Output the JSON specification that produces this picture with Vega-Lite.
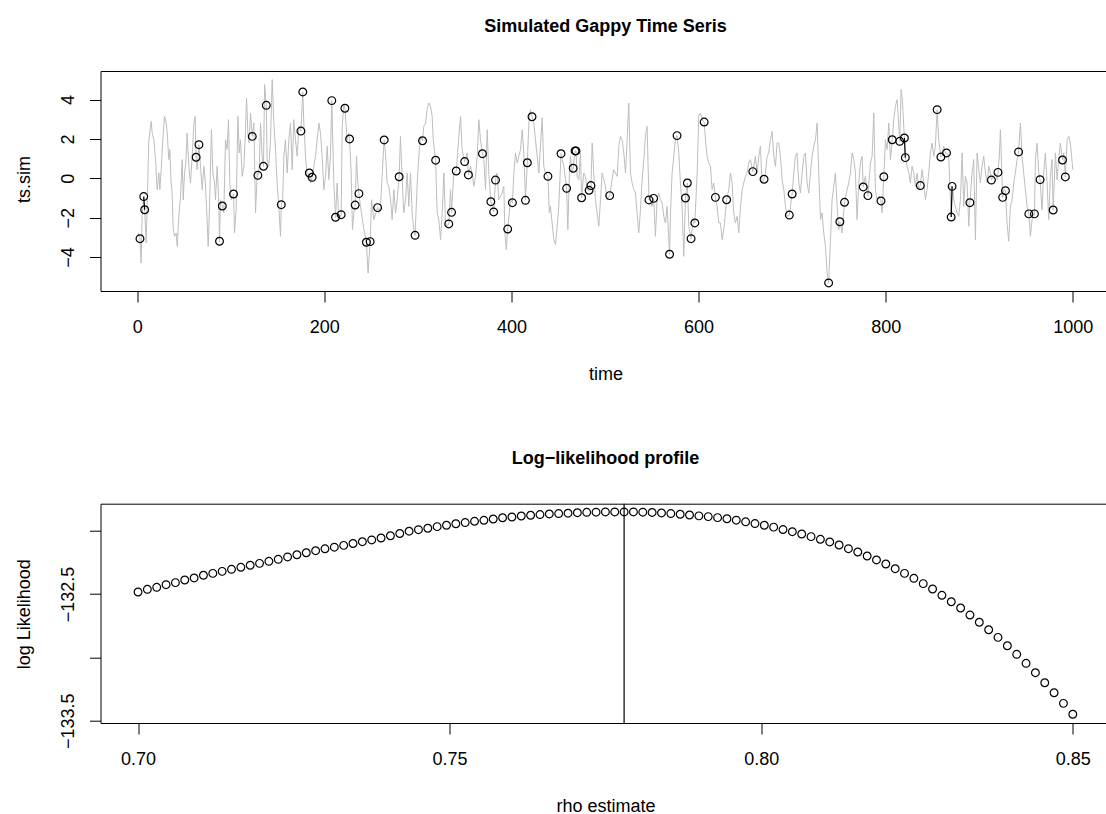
{
"$schema": "https://vega.github.io/schema/vega-lite/v6.json",
"padding": {"left": 14.5, "top": 18, "right": 0, "bottom": 2},
"background": "white",
"config": {
  "font": "Liberation Sans",
  "view": {"stroke": null},
  "axis": {"grid": false, "domain": true, "domainColor": "black", "domainWidth": 1, "tickColor": "black", "tickSize": 11, "tickWidth": 1,
    "labelFont": "Liberation Sans", "labelFontSize": 18, "labelColor": "black", "labelPadding": 16, "labelFlush": false, "labelOverlap": false,
    "titleFont": "Liberation Sans", "titleFontSize": 18, "titleFontWeight": "normal", "titleColor": "black"},
  "title": {"font": "Liberation Sans", "fontSize": 18, "fontWeight": "bold", "color": "black", "baseline": "alphabetic", "offset": 35, "frame": "group", "anchor": "middle", "dx": 2}
},
"datasets": {
  "series": [
{"t":1,"v":-2.78},{"t":3,"v":-3.07,"o":1},{"t":4.2,"v":-4.31},{"t":5.3,"v":-1.93},{"t":7,"v":-0.93,"o":1,"p":"a"},{"t":8,"v":-1.6,"o":1,"p":"a"},{"t":9.6,"v":-3.29},{"t":12.5,"v":1.96},{"t":15,"v":2.9},{"t":16,"v":2.3},{"t":17.8,"v":1.96},{"t":19.6,"v":0.95},{"t":21.4,"v":-0.58},{"t":23.2,"v":0.27},{"t":24.2,"v":-0.58},{"t":25.7,"v":0.44},{"t":27.4,"v":1.96},{"t":29.2,"v":3.15},{"t":31,"v":2.81},{"t":32.1,"v":2.3},{"t":33.8,"v":0.95},{"t":34.9,"v":1.46},{"t":36.3,"v":-0.24},{"t":37.4,"v":-0.75},{"t":38.5,"v":-2.61},{"t":39.9,"v":-2.95},{"t":41.7,"v":-2.78},{"t":42.8,"v":-3.46},{"t":44.5,"v":-1.93},{"t":46.3,"v":-0.92},{"t":48.1,"v":0.95},{"t":49.2,"v":-1.09},{"t":50.6,"v":0.27},{"t":52,"v":0.78},{"t":53.4,"v":2.3},{"t":55.2,"v":0.61},{"t":57,"v":-0.24},{"t":58.8,"v":1.12},{"t":60.6,"v":2.81},{"t":62,"v":3.15},{"t":63,"v":1.07,"o":1},{"t":64.1,"v":0.44},{"t":66,"v":1.71,"o":1},{"t":67.7,"v":0.61},{"t":69.5,"v":-0.58},{"t":71.3,"v":0.61},{"t":72.7,"v":-0.07},{"t":74.1,"v":-1.43},{"t":75.9,"v":-3.46},{"t":77.3,"v":-1.43},{"t":79.4,"v":2.47},{"t":80.9,"v":0.27},{"t":82.7,"v":-0.24},{"t":83.7,"v":-1.09},{"t":85.5,"v":0.61},{"t":86.9,"v":-0.75},{"t":88,"v":-3.2,"o":1},{"t":89.1,"v":-1.09},{"t":91,"v":-1.41,"o":1},{"t":92.6,"v":-1.76},{"t":94.4,"v":1.96},{"t":96.2,"v":1.46},{"t":97.6,"v":2.98},{"t":99,"v":-0.24},{"t":100.5,"v":-1.09},{"t":103,"v":-0.8,"o":1},{"t":104,"v":-2.78},{"t":105.8,"v":-1.6},{"t":107.6,"v":3.15},{"t":109,"v":1.29},{"t":110.4,"v":1.96},{"t":112.2,"v":0.1},{"t":114,"v":0.61},{"t":115.8,"v":2.47},{"t":116.9,"v":4.08},{"t":118.3,"v":2.3},{"t":119.7,"v":1.79},{"t":121.1,"v":3.32},{"t":123,"v":2.13,"o":1},{"t":124.7,"v":2.81},{"t":126.5,"v":-1.76},{"t":128.3,"v":0.27},{"t":129,"v":0.15,"o":1},{"t":130.5,"v":0.61},{"t":131.8,"v":2.81},{"t":133.6,"v":1.12},{"t":135,"v":0.61,"o":1},{"t":136.2,"v":4.76},{"t":138,"v":3.71,"o":1},{"t":138.9,"v":0.95},{"t":140.7,"v":0.61},{"t":142.5,"v":1.96},{"t":144.3,"v":5.02},{"t":146.1,"v":2.81},{"t":147.8,"v":1.46},{"t":149.6,"v":-0.24},{"t":151.4,"v":-1.43},{"t":153.2,"v":-2.95},{"t":154,"v":-1.34,"o":1},{"t":155.5,"v":-1.09},{"t":156.8,"v":1.12},{"t":158.5,"v":1.96},{"t":160.3,"v":0.27},{"t":162.1,"v":1.96},{"t":163.9,"v":2.81},{"t":165.7,"v":0.44},{"t":167.4,"v":2.98},{"t":169.2,"v":1.96},{"t":171,"v":1.12},{"t":172.8,"v":2.64},{"t":175,"v":2.4,"o":1},{"t":177,"v":4.39,"o":1},{"t":178.1,"v":2.81},{"t":179.9,"v":1.12},{"t":181.7,"v":0.1},{"t":184,"v":0.27,"o":1},{"t":185.3,"v":-0.24},{"t":187,"v":0.05,"o":1},{"t":188.8,"v":0.61},{"t":190.6,"v":1.12},{"t":192.4,"v":1.96},{"t":194.2,"v":2.81},{"t":195.9,"v":2.3},{"t":197.7,"v":1.12},{"t":199.5,"v":-0.58},{"t":201.3,"v":0.1},{"t":203.1,"v":1.63},{"t":204.8,"v":-0.07},{"t":206.6,"v":1.12},{"t":208,"v":3.95,"o":1},{"t":210.2,"v":-0.24},{"t":212,"v":-1.98,"o":1},{"t":213.7,"v":-0.24},{"t":215.5,"v":-2.1},{"t":218,"v":-1.85,"o":1},{"t":219.1,"v":2.64},{"t":220.9,"v":3.74},{"t":222,"v":3.56,"o":1},{"t":224.4,"v":1.96},{"t":226.2,"v":2.3},{"t":227,"v":2.0,"o":1},{"t":228.7,"v":0.27},{"t":230.1,"v":-2.61},{"t":231.6,"v":-1.76},{"t":233,"v":-1.36,"o":1},{"t":234.4,"v":1.12},{"t":235.8,"v":-0.24},{"t":237,"v":-0.78,"o":1},{"t":238.7,"v":-1.43},{"t":242.3,"v":-2.61},{"t":245,"v":-3.25,"o":1},{"t":246.8,"v":-4.82},{"t":249,"v":-3.22,"o":1},{"t":250.5,"v":-1.09},{"t":252.9,"v":-2.1},{"t":257,"v":-1.49,"o":1},{"t":258.3,"v":-1.76},{"t":260.1,"v":-1.43},{"t":261.9,"v":0.27},{"t":264,"v":1.95,"o":1},{"t":265.4,"v":1.29},{"t":267.2,"v":-0.24},{"t":269,"v":-0.41},{"t":270.8,"v":-1.09},{"t":272.5,"v":-2.1},{"t":274.3,"v":-0.58},{"t":276.1,"v":-1.76},{"t":277.9,"v":-1.09},{"t":280,"v":0.08,"o":1},{"t":281.4,"v":2.13},{"t":283.2,"v":-0.07},{"t":285,"v":-1.76},{"t":286.8,"v":-1.09},{"t":288.6,"v":0.27},{"t":290.3,"v":-1.43},{"t":292.1,"v":0.27},{"t":293.9,"v":-1.76},{"t":295.7,"v":-2.61},{"t":297,"v":-2.9,"o":1},{"t":299.3,"v":-0.24},{"t":301,"v":1.12},{"t":302.8,"v":2.13},{"t":305,"v":1.91,"o":1},{"t":306.4,"v":2.64},{"t":308.2,"v":2.81},{"t":309.9,"v":3.49},{"t":311.7,"v":3.83},{"t":313.5,"v":3.66},{"t":315.3,"v":3.15},{"t":316.4,"v":1.96},{"t":319,"v":0.92,"o":1},{"t":320.6,"v":-1.76},{"t":322.4,"v":-2.1},{"t":324.2,"v":-3.12},{"t":326,"v":-1.76},{"t":327.8,"v":0.27},{"t":329.5,"v":-2.27},{"t":331.3,"v":-2.44},{"t":333,"v":-2.32,"o":1},{"t":334.9,"v":-0.58},{"t":336,"v":-1.73,"o":1},{"t":338.4,"v":0.27},{"t":341,"v":0.37,"o":1},{"t":342,"v":0.95},{"t":343.8,"v":2.13},{"t":345.6,"v":3.15},{"t":347.3,"v":1.46},{"t":350,"v":0.85,"o":1},{"t":352.7,"v":1.29},{"t":354,"v":0.17,"o":1},{"t":356.2,"v":0.61},{"t":358,"v":0.27},{"t":359.8,"v":-0.41},{"t":361.6,"v":0.1},{"t":363.4,"v":1.12},{"t":365.2,"v":2.98},{"t":366.9,"v":1.96},{"t":369,"v":1.25,"o":1},{"t":370.5,"v":0.95},{"t":372.3,"v":-0.58},{"t":374.1,"v":2.47},{"t":375.8,"v":0.27},{"t":378,"v":-1.19,"o":1},{"t":379.4,"v":-1.43},{"t":381,"v":-1.71,"o":1},{"t":383,"v":-0.09,"o":1},{"t":384.7,"v":0.27},{"t":386.5,"v":-1.09},{"t":388.3,"v":-0.92},{"t":390.1,"v":-0.75},{"t":391.9,"v":-0.41},{"t":393,"v":-2.78},{"t":394.5,"v":-3.63},{"t":396,"v":-2.58,"o":1},{"t":399,"v":-1.09},{"t":401,"v":-1.24,"o":1},{"t":402.6,"v":0.27},{"t":404.3,"v":1.29},{"t":406.1,"v":0.78},{"t":407.9,"v":1.12},{"t":409.7,"v":1.46},{"t":411.5,"v":2.47},{"t":413.2,"v":1.29},{"t":415,"v":-1.12,"o":1},{"t":417,"v":0.79,"o":1},{"t":418.6,"v":2.81},{"t":420.4,"v":3.49},{"t":422,"v":3.13,"o":1},{"t":423.9,"v":2.81},{"t":425.7,"v":1.96},{"t":427.5,"v":1.12},{"t":429.3,"v":0.27},{"t":431,"v":1.63},{"t":432.8,"v":3.07},{"t":434.6,"v":0.61},{"t":436.4,"v":0.27},{"t":439,"v":0.1,"o":1},{"t":440.5,"v":-1.76},{"t":441.7,"v":-1.43},{"t":443.5,"v":-2.27},{"t":445.3,"v":-3.12},{"t":447.1,"v":-3.37},{"t":448.9,"v":-2.44},{"t":450.6,"v":-1.43},{"t":453,"v":1.25,"o":1},{"t":454.2,"v":0.95},{"t":456,"v":0.61},{"t":457.8,"v":-0.07},{"t":459,"v":-0.51,"o":1},{"t":460.3,"v":-2.61},{"t":462,"v":0.27},{"t":463.1,"v":1.12},{"t":464.9,"v":0.27},{"t":466,"v":0.51,"o":1},{"t":468,"v":1.39,"o":1},{"t":469,"v":1.39,"o":1},{"t":470.2,"v":0.1},{"t":472,"v":-0.07},{"t":473.8,"v":1.29},{"t":475,"v":-0.99,"o":1},{"t":477.3,"v":0.27},{"t":479.1,"v":0.1},{"t":480.9,"v":-0.58},{"t":483,"v":-0.61,"o":1},{"t":485,"v":-0.37,"o":1},{"t":486.3,"v":1.79},{"t":488,"v":0.27},{"t":489.8,"v":-1.09},{"t":491.6,"v":-1.76},{"t":493.4,"v":-2.44},{"t":495.2,"v":-1.09},{"t":496.9,"v":0.27},{"t":498.7,"v":-0.07},{"t":500.5,"v":-0.41},{"t":502.3,"v":-1.09},{"t":505,"v":-0.88,"o":1},{"t":507.6,"v":-0.07},{"t":509.4,"v":0.44},{"t":511.2,"v":0.27},{"t":513,"v":0.1},{"t":514.8,"v":1.63},{"t":516.5,"v":2.13},{"t":518.3,"v":1.96},{"t":520.1,"v":1.29},{"t":521.9,"v":0.27},{"t":523.7,"v":1.96},{"t":525.4,"v":3.83},{"t":527.2,"v":0.27},{"t":529,"v":-0.24},{"t":530.8,"v":-0.58},{"t":532.6,"v":-0.75},{"t":534.3,"v":-1.76},{"t":536.1,"v":-2.78},{"t":537.9,"v":-1.6},{"t":539.7,"v":-0.07},{"t":541.5,"v":0.95},{"t":543.3,"v":2.22},{"t":545,"v":2.64},{"t":547,"v":-1.1,"o":1},{"t":548.6,"v":-1.09},{"t":550.4,"v":-1.43},{"t":552,"v":-1.02,"o":1},{"t":553.9,"v":-2.95},{"t":555.7,"v":-1.09},{"t":557.5,"v":-0.75},{"t":559.3,"v":-1.09},{"t":561.1,"v":-1.26},{"t":562.8,"v":-1.93},{"t":564.6,"v":-2.27},{"t":566.4,"v":-1.43},{"t":569,"v":-3.86,"o":1},{"t":570,"v":-1.76},{"t":571.7,"v":0.27},{"t":573.5,"v":1.12},{"t":575.3,"v":1.96},{"t":577,"v":2.17,"o":1},{"t":578.9,"v":1.29},{"t":580.6,"v":-0.24},{"t":582.4,"v":-1.43},{"t":584.2,"v":-3.97},{"t":586,"v":-1.0,"o":1},{"t":588,"v":-0.24,"o":1},{"t":589.6,"v":-2.44},{"t":592,"v":-3.07,"o":1},{"t":593.1,"v":-2.61},{"t":594.9,"v":-2.1},{"t":596,"v":-2.27,"o":1},{"t":598.5,"v":0.27},{"t":600.2,"v":3.15},{"t":602,"v":3.32},{"t":603.8,"v":2.98},{"t":606,"v":2.86,"o":1},{"t":607.4,"v":1.96},{"t":609.1,"v":1.12},{"t":610.9,"v":0.78},{"t":612.7,"v":0.61},{"t":614.5,"v":-0.58},{"t":616.3,"v":-0.24},{"t":618,"v":-0.97,"o":1},{"t":619.8,"v":-1.43},{"t":621.6,"v":-2.27},{"t":623.4,"v":-2.27},{"t":625.2,"v":-3.12},{"t":627,"v":-2.61},{"t":628.7,"v":-1.76},{"t":630,"v":-1.09,"o":1},{"t":632.3,"v":-0.58},{"t":634.1,"v":0.27},{"t":635.9,"v":-0.24},{"t":637.6,"v":-1.76},{"t":639.4,"v":-2.27},{"t":641.2,"v":-1.93},{"t":643,"v":-2.78},{"t":644.8,"v":-1.43},{"t":646.6,"v":-0.58},{"t":648.3,"v":-0.24},{"t":650.1,"v":0.1},{"t":651.9,"v":0.27},{"t":653.7,"v":0.78},{"t":655.5,"v":0.95},{"t":658,"v":0.34,"o":1},{"t":660.8,"v":1.12},{"t":662.6,"v":0.27},{"t":664.4,"v":1.12},{"t":666.1,"v":1.63},{"t":667.9,"v":-0.24},{"t":670,"v":-0.05,"o":1},{"t":671.5,"v":0.27},{"t":673.3,"v":1.12},{"t":675,"v":1.29},{"t":676.8,"v":1.96},{"t":678.6,"v":2.39},{"t":680.4,"v":1.12},{"t":682.2,"v":0.61},{"t":683.9,"v":1.79},{"t":685.7,"v":1.79},{"t":687.5,"v":1.12},{"t":689.3,"v":-0.07},{"t":691.1,"v":-0.58},{"t":692.9,"v":-1.43},{"t":694.6,"v":-1.93},{"t":697,"v":-1.87,"o":1},{"t":698.2,"v":-1.43},{"t":700,"v":-0.8,"o":1},{"t":701.8,"v":0.27},{"t":703.5,"v":1.12},{"t":705.3,"v":1.29},{"t":707.1,"v":-0.24},{"t":708.9,"v":-0.75},{"t":710.7,"v":0.27},{"t":712.5,"v":1.12},{"t":714.2,"v":1.29},{"t":716,"v":-0.24},{"t":717.8,"v":-0.75},{"t":719.6,"v":0.27},{"t":721.4,"v":1.12},{"t":723.1,"v":1.63},{"t":724.9,"v":1.96},{"t":726.7,"v":2.81},{"t":728.5,"v":0.27},{"t":730.3,"v":-2.1},{"t":732,"v":-1.76},{"t":733.8,"v":-2.78},{"t":735.6,"v":-3.46},{"t":737.4,"v":-4.82},{"t":739,"v":-5.32,"o":1},{"t":741,"v":-3.12},{"t":742.7,"v":-1.09},{"t":744.5,"v":-0.41},{"t":746.3,"v":0.27},{"t":748.1,"v":-1.43},{"t":749.9,"v":-2.61},{"t":751,"v":-2.21,"o":1},{"t":753.4,"v":-2.78},{"t":756,"v":-1.22,"o":1},{"t":758.8,"v":-0.58},{"t":760.5,"v":-0.24},{"t":762.3,"v":0.27},{"t":764.1,"v":1.29},{"t":765.9,"v":0.95},{"t":767.7,"v":0.27},{"t":769.4,"v":-2.1},{"t":771.2,"v":-0.24},{"t":773,"v":0.78},{"t":774.8,"v":1.12},{"t":776,"v":-0.44,"o":1},{"t":778.3,"v":0.1},{"t":781,"v":-0.88,"o":1},{"t":783.7,"v":0.78},{"t":785.5,"v":1.12},{"t":787.3,"v":3.32},{"t":789,"v":-0.58},{"t":790.8,"v":-1.09},{"t":792.6,"v":-0.92},{"t":795,"v":-1.15,"o":1},{"t":796.2,"v":-1.76},{"t":798,"v":0.08,"o":1},{"t":799.7,"v":1.96},{"t":801.5,"v":1.46},{"t":803.3,"v":2.81},{"t":805.1,"v":0.95},{"t":807,"v":1.96,"o":1},{"t":808.6,"v":2.98},{"t":810.4,"v":3.66},{"t":812.2,"v":4.0},{"t":815,"v":1.88,"o":1},{"t":816.5,"v":4.51},{"t":818,"v":3.83},{"t":820,"v":2.05,"o":1,"p":"b"},{"t":821,"v":1.05,"o":1,"p":"b"},{"t":822.9,"v":0.61},{"t":824.7,"v":0.27},{"t":826.4,"v":-0.24},{"t":828.2,"v":0.61},{"t":830,"v":0.27},{"t":831.8,"v":-0.41},{"t":833.6,"v":0.27},{"t":835.3,"v":-0.58},{"t":837,"v":-0.37,"o":1},{"t":838.9,"v":0.44},{"t":840.7,"v":-0.24},{"t":842.5,"v":-1.09},{"t":844.2,"v":-0.58},{"t":846,"v":0.27},{"t":847.8,"v":1.29},{"t":849.6,"v":1.79},{"t":851.4,"v":1.12},{"t":853.1,"v":1.63},{"t":855,"v":3.49,"o":1},{"t":856.7,"v":1.96},{"t":859,"v":1.08,"o":1},{"t":860.3,"v":1.12},{"t":862,"v":1.63},{"t":863.8,"v":1.29},{"t":865,"v":1.29,"o":1},{"t":867.4,"v":1.12},{"t":868.5,"v":-0.24},{"t":870,"v":-1.97,"o":1,"p":"c"},{"t":871,"v":-0.41,"o":1,"p":"c"},{"t":872.8,"v":-1.09},{"t":874.5,"v":-1.43},{"t":876.3,"v":-1.76},{"t":878.1,"v":-1.93},{"t":879.9,"v":-1.09},{"t":881.7,"v":1.29},{"t":883.4,"v":-1.43},{"t":885.2,"v":0.1},{"t":887,"v":-0.24},{"t":888.8,"v":-2.44},{"t":890,"v":-1.24,"o":1},{"t":892.3,"v":0.27},{"t":894.1,"v":0.95},{"t":895.9,"v":-3.12},{"t":897.7,"v":1.29},{"t":899.5,"v":0.44},{"t":901.2,"v":-0.24},{"t":903,"v":0.61},{"t":904.8,"v":1.12},{"t":906.6,"v":0.27},{"t":908.4,"v":-0.24},{"t":910.1,"v":0.61},{"t":911.9,"v":0.27},{"t":913,"v":-0.09,"o":1},{"t":915.5,"v":0.1},{"t":917.3,"v":0.27},{"t":919,"v":-0.07},{"t":920,"v":0.3,"o":1},{"t":921.5,"v":1.12},{"t":922.6,"v":2.47},{"t":925,"v":-0.97,"o":1},{"t":926.2,"v":-0.58},{"t":928,"v":-0.63,"o":1},{"t":929.7,"v":-2.27},{"t":931.5,"v":-3.2},{"t":933.3,"v":-1.43},{"t":935.1,"v":-1.09},{"t":936.9,"v":-0.24},{"t":938.6,"v":0.27},{"t":940.4,"v":0.95},{"t":942,"v":1.34,"o":1},{"t":944,"v":2.81},{"t":945.8,"v":1.12},{"t":947.5,"v":0.27},{"t":949.3,"v":-0.58},{"t":951.1,"v":-1.43},{"t":953,"v":-1.81,"o":1},{"t":954.7,"v":-2.95},{"t":956.4,"v":-2.1},{"t":959,"v":-1.81,"o":1},{"t":960,"v":0.95},{"t":961.8,"v":1.79},{"t":963.6,"v":0.27},{"t":965,"v":-0.07,"o":1},{"t":967.1,"v":-1.6},{"t":968.9,"v":0.27},{"t":970.7,"v":1.29},{"t":972.5,"v":-0.24},{"t":974.3,"v":-2.1},{"t":976,"v":0.1},{"t":977.8,"v":0.95},{"t":979,"v":-1.61,"o":1},{"t":981.4,"v":1.29},{"t":983.2,"v":-0.07},{"t":984.9,"v":0.95},{"t":986.7,"v":1.79},{"t":989,"v":0.93,"o":1},{"t":990.3,"v":1.29},{"t":992,"v":0.07,"o":1},{"t":993.9,"v":1.96},{"t":995.7,"v":2.13},{"t":997.4,"v":1.79},{"t":1000,"v":0.44}
  ],
  "profile": [
{"rho":0.7,"ll":-132.484},{"rho":0.7015,"ll":-132.463},{"rho":0.703,"ll":-132.447},{"rho":0.7045,"ll":-132.426},{"rho":0.706,"ll":-132.41},{"rho":0.7075,"ll":-132.389},{"rho":0.709,"ll":-132.373},{"rho":0.7105,"ll":-132.352},{"rho":0.712,"ll":-132.337},{"rho":0.7135,"ll":-132.321},{"rho":0.715,"ll":-132.305},{"rho":0.7165,"ll":-132.289},{"rho":0.718,"ll":-132.273},{"rho":0.7195,"ll":-132.258},{"rho":0.721,"ll":-132.242},{"rho":0.7225,"ll":-132.226},{"rho":0.724,"ll":-132.207},{"rho":0.7255,"ll":-132.19},{"rho":0.727,"ll":-132.174},{"rho":0.7285,"ll":-132.158},{"rho":0.73,"ll":-132.143},{"rho":0.7315,"ll":-132.13},{"rho":0.733,"ll":-132.116},{"rho":0.7345,"ll":-132.101},{"rho":0.736,"ll":-132.087},{"rho":0.7375,"ll":-132.073},{"rho":0.739,"ll":-132.058},{"rho":0.7405,"ll":-132.04},{"rho":0.742,"ll":-132.022},{"rho":0.7435,"ll":-132.004},{"rho":0.745,"ll":-131.992},{"rho":0.7465,"ll":-131.981},{"rho":0.748,"ll":-131.968},{"rho":0.7495,"ll":-131.957},{"rho":0.751,"ll":-131.945},{"rho":0.7525,"ll":-131.936},{"rho":0.754,"ll":-131.926},{"rho":0.7555,"ll":-131.918},{"rho":0.757,"ll":-131.908},{"rho":0.7585,"ll":-131.898},{"rho":0.76,"ll":-131.892},{"rho":0.7615,"ll":-131.884},{"rho":0.763,"ll":-131.878},{"rho":0.7645,"ll":-131.873},{"rho":0.766,"ll":-131.868},{"rho":0.7675,"ll":-131.865},{"rho":0.769,"ll":-131.862},{"rho":0.7705,"ll":-131.858},{"rho":0.772,"ll":-131.855},{"rho":0.7735,"ll":-131.854},{"rho":0.775,"ll":-131.852},{"rho":0.7765,"ll":-131.852},{"rho":0.778,"ll":-131.852},{"rho":0.7795,"ll":-131.852},{"rho":0.781,"ll":-131.854},{"rho":0.7825,"ll":-131.856},{"rho":0.784,"ll":-131.86},{"rho":0.7855,"ll":-131.865},{"rho":0.787,"ll":-131.87},{"rho":0.7885,"ll":-131.876},{"rho":0.79,"ll":-131.883},{"rho":0.7915,"ll":-131.889},{"rho":0.793,"ll":-131.897},{"rho":0.7945,"ll":-131.906},{"rho":0.796,"ll":-131.917},{"rho":0.7975,"ll":-131.93},{"rho":0.799,"ll":-131.944},{"rho":0.8005,"ll":-131.957},{"rho":0.802,"ll":-131.972},{"rho":0.8035,"ll":-131.991},{"rho":0.805,"ll":-132.008},{"rho":0.8065,"ll":-132.026},{"rho":0.808,"ll":-132.047},{"rho":0.8095,"ll":-132.068},{"rho":0.811,"ll":-132.089},{"rho":0.8125,"ll":-132.113},{"rho":0.814,"ll":-132.142},{"rho":0.8155,"ll":-132.168},{"rho":0.817,"ll":-132.2},{"rho":0.8185,"ll":-132.231},{"rho":0.82,"ll":-132.263},{"rho":0.8215,"ll":-132.3},{"rho":0.823,"ll":-132.337},{"rho":0.8245,"ll":-132.376},{"rho":0.826,"ll":-132.418},{"rho":0.8275,"ll":-132.46},{"rho":0.829,"ll":-132.51},{"rho":0.8305,"ll":-132.561},{"rho":0.832,"ll":-132.61},{"rho":0.8335,"ll":-132.666},{"rho":0.835,"ll":-132.723},{"rho":0.8365,"ll":-132.782},{"rho":0.838,"ll":-132.842},{"rho":0.8395,"ll":-132.908},{"rho":0.841,"ll":-132.976},{"rho":0.8425,"ll":-133.047},{"rho":0.844,"ll":-133.121},{"rho":0.8455,"ll":-133.2},{"rho":0.847,"ll":-133.279},{"rho":0.8485,"ll":-133.363},{"rho":0.85,"ll":-133.449}
  ],
  "best": [{"rho": 0.778}]
},
"spacing": 212.7,
"bounds": "flush",
"vconcat": [
  {
    "width": 1006, "height": 220,
    "title": {"text": "Simulated Gappy Time Seris"},
    "data": {"name": "series"},
    "resolve": {"axis": {"x": "independent"}},
    "layer": [
      {
        "mark": {"type": "line", "color": "#bebebe", "strokeWidth": 1},
        "encoding": {
          "x": {"field": "t", "type": "quantitative", "scale": {"domain": [-39.2, 1036], "nice": false, "zero": false},
                "axis": {"orient": "bottom", "values": [0, 200, 400, 600, 800, 1000], "format": "d", "title": "time",
                         "titleX": 505, "titleY": 88.4, "titleAlign": "center", "titleBaseline": "alphabetic"}},
          "y": {"field": "v", "type": "quantitative", "scale": {"domain": [-5.73, 5.455], "nice": false, "zero": false},
                "axis": {"values": [-4, -2, 0, 2, 4], "format": "d", "labelAngle": -90, "labelAlign": "center", "labelBaseline": "alphabetic",
                         "title": "ts.sim", "titleAngle": -90, "titleX": -71.5, "titleY": 108, "titleAlign": "center", "titleBaseline": "alphabetic"}}
        }
      },
      {
        "transform": [{"filter": "datum.p != null"}],
        "mark": {"type": "line", "color": "black", "strokeWidth": 1.2},
        "encoding": {
          "x": {"field": "t", "type": "quantitative",
                "axis": {"orient": "top", "labels": false, "ticks": false, "title": null, "domain": true}},
          "y": {"field": "v", "type": "quantitative"},
          "detail": {"field": "p", "type": "nominal"}
        }
      },
      {
        "transform": [{"filter": "datum.o == 1"}],
        "mark": {"type": "point", "shape": "circle", "filled": false, "color": "black", "size": 60, "strokeWidth": 1.2, "opacity": 1},
        "encoding": {
          "x": {"field": "t", "type": "quantitative", "axis": null},
          "y": {"field": "v", "type": "quantitative"}
        }
      }
    ]
  },
  {
    "width": 1006, "height": 219.3,
    "title": {"text": "Log\u2212likelihood profile"},
    "resolve": {"axis": {"x": "independent"}},
    "layer": [
      {
        "data": {"name": "profile"},
        "mark": {"type": "point", "shape": "circle", "filled": false, "color": "black", "size": 60, "strokeWidth": 1.2, "opacity": 1},
        "encoding": {
          "x": {"field": "rho", "type": "quantitative", "scale": {"domain": [0.69398, 0.85541], "nice": false, "zero": false},
                "axis": {"orient": "bottom", "values": [0.7, 0.75, 0.8, 0.85], "format": ".2f", "title": "rho estimate",
                         "titleX": 505, "titleY": 88.4, "titleAlign": "center", "titleBaseline": "alphabetic"}},
          "y": {"field": "ll", "type": "quantitative", "scale": {"domain": [-133.518, -131.787], "nice": false, "zero": false},
                "axis": {"values": [-132, -132.5, -133, -133.5], "format": ".1f",
                         "labelExpr": "(datum.value == -132.5 || datum.value == -133.5) ? datum.label : ''",
                         "labelAngle": -90, "labelAlign": "center", "labelBaseline": "alphabetic",
                         "title": "log Likelihood", "titleAngle": -90, "titleX": -71.5, "titleY": 110, "titleAlign": "center", "titleBaseline": "alphabetic"}}
        }
      },
      {
        "data": {"name": "best"},
        "mark": {"type": "rule", "color": "black", "strokeWidth": 1.2},
        "encoding": {
          "x": {"field": "rho", "type": "quantitative",
                "axis": {"orient": "top", "labels": false, "ticks": false, "title": null, "domain": true}}
        }
      }
    ]
  }
]
}
